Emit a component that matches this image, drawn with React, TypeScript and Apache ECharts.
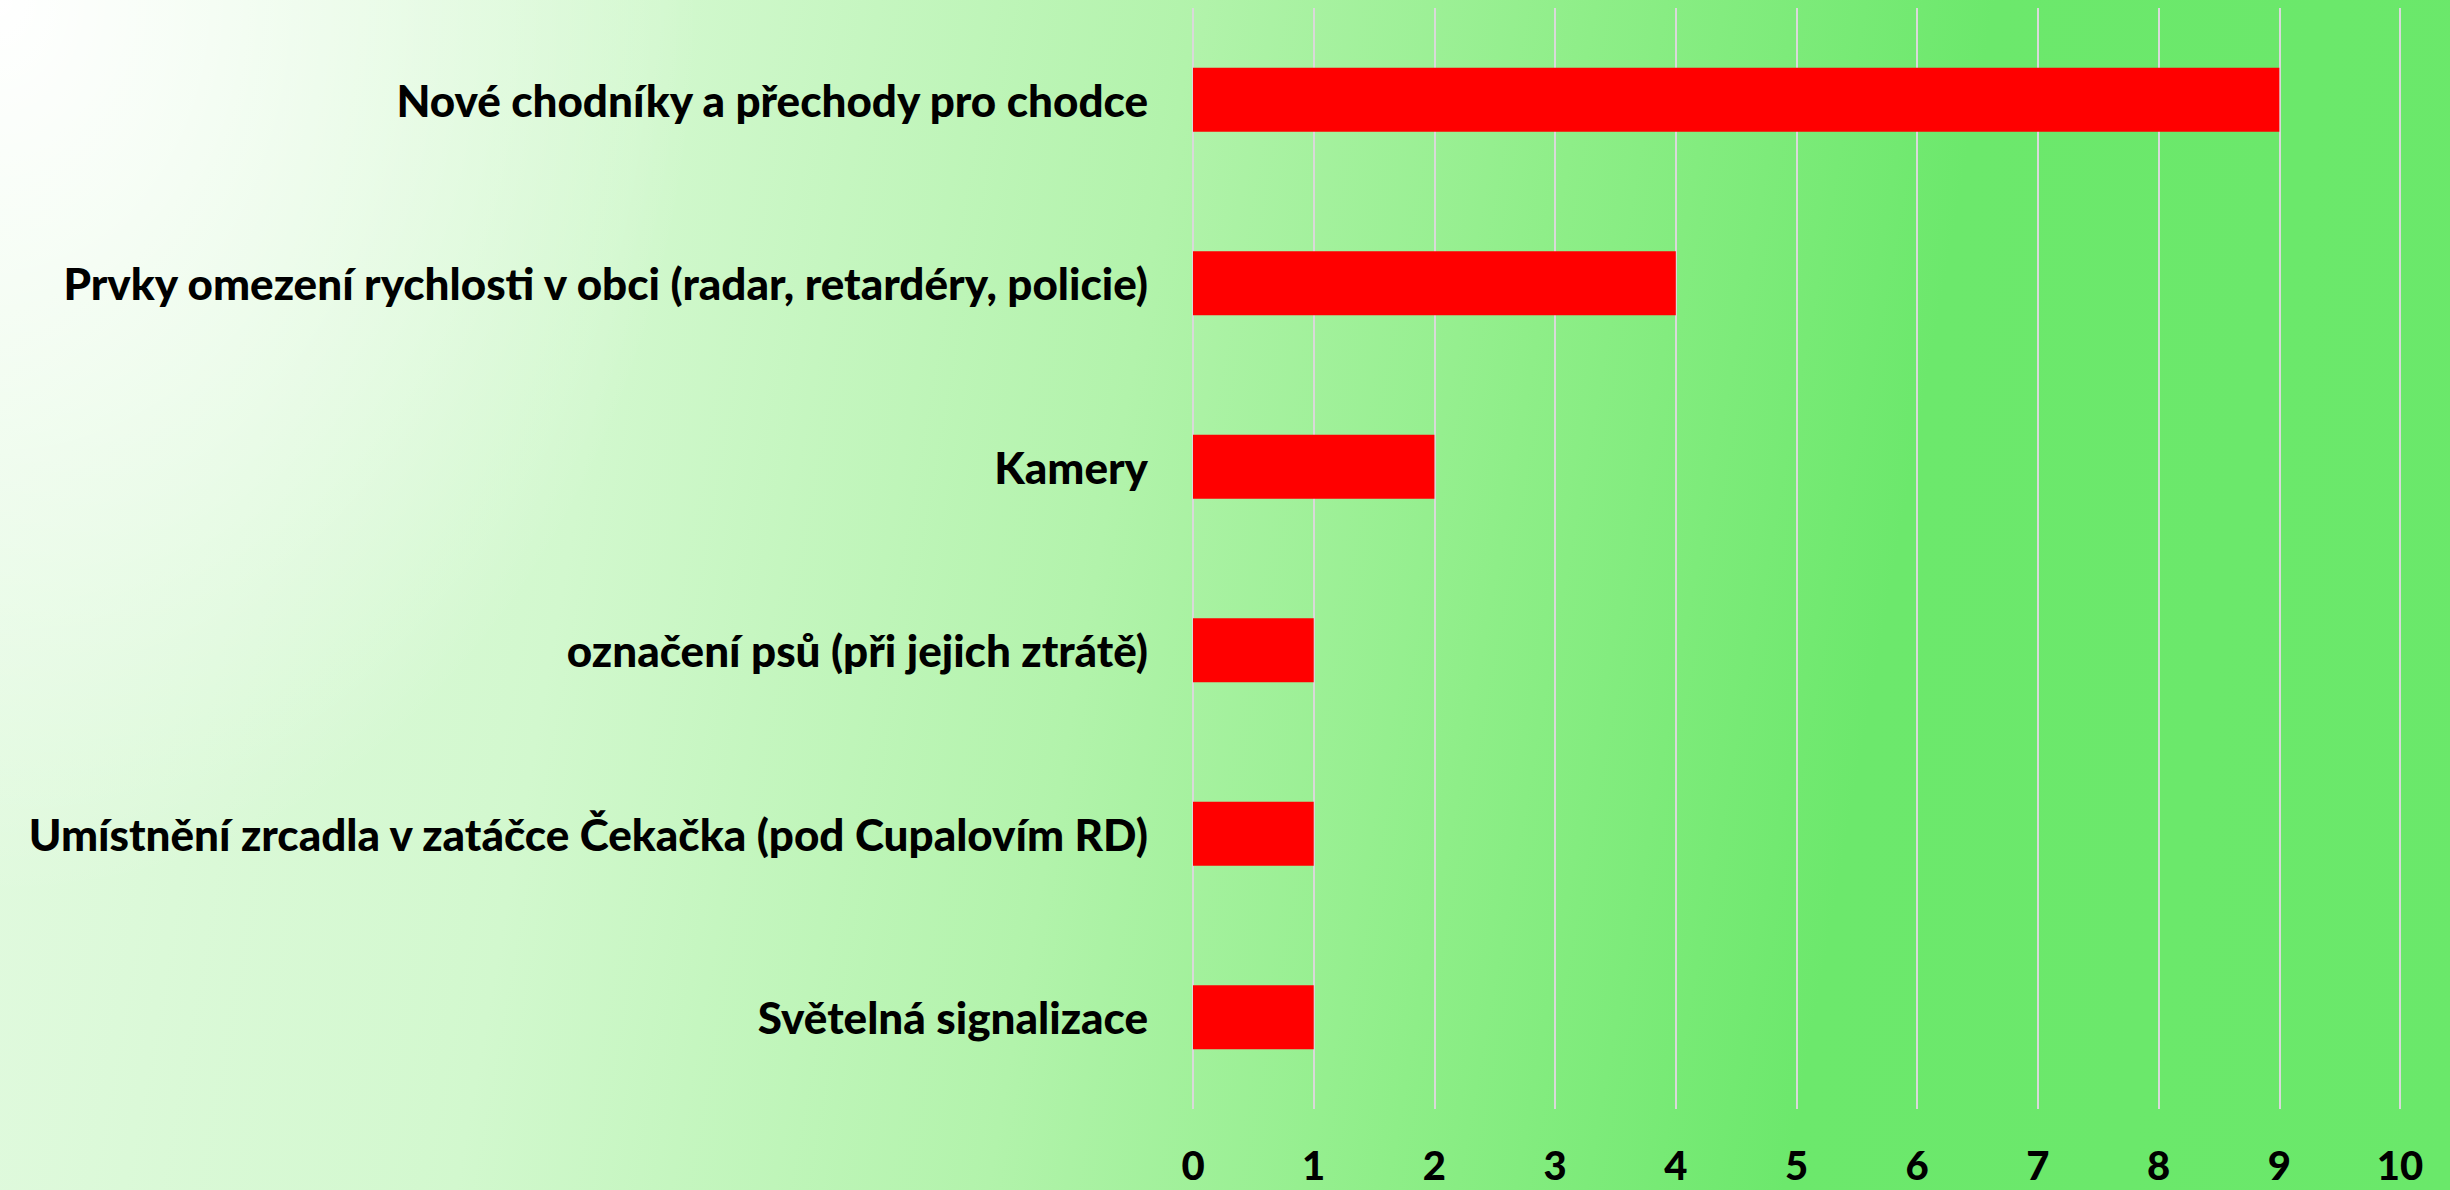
import React, { useEffect, useRef } from "react";
import * as echarts from "echarts";

const categories = [
  "Nové chodníky a přechody pro chodce",
  "Prvky omezení rychlosti v obci (radar, retardéry, policie)",
  "Kamery",
  "označení psů (při jejich ztrátě)",
  "Umístnění zrcadla v zatáčce Čekačka (pod Cupalovím RD)",
  "Světelná signalizace",
];
const values = [9, 4, 2, 1, 1, 1];
const xMin = 0;
const xMax = 10;
const xInterval = 1;

export default function App() {
  const ref = useRef<HTMLDivElement>(null);
  useEffect(() => {
    document.body.style.margin = "0";
    if (!ref.current) return;
    const chart = echarts.init(ref.current, null, { renderer: "svg" });
    chart.setOption({
      animation: false,
      backgroundColor: "transparent",
      grid: { left: 1193, right: 50, top: 8, bottom: 81, containLabel: false },
      xAxis: {
        type: "value",
        min: xMin,
        max: xMax,
        interval: xInterval,
        axisLine: { show: false },
        axisTick: { show: false },
        splitLine: { show: true, lineStyle: { color: "#d9d9d9", width: 2 } },
        axisLabel: {
          margin: 36,
          color: "#000",
          fontFamily: "Lato",
          fontWeight: 900,
          fontSize: 40,
          lineHeight: 40,
        },
      },
      yAxis: {
        type: "category",
        data: categories,
        inverse: true,
        axisLine: { show: false },
        axisTick: { show: false },
        splitLine: { show: false },
        axisLabel: {
          margin: 45,
          color: "#000",
          fontFamily: "Lato",
          fontWeight: 900,
          fontSize: 44,
        },
      },
      series: [
        {
          type: "bar",
          data: values,
          barWidth: 64,
          itemStyle: { color: "#ff0000" },
        },
      ],
    });
    return () => chart.dispose();
  }, []);
  return (
    <div
      ref={ref}
      style={{
        width: 2450,
        height: 1190,
        background:
          "radial-gradient(ellipse 700px 900px at 0% 0%, rgba(255,255,255,1) 0%, rgba(255,255,255,0.6) 40%, rgba(255,255,255,0) 100%), linear-gradient(100deg, #e4fae2 0%, #d2f8ce 25%, #b2f3ab 45%, #8eee88 60%, #6ce86c 75%, #6ae86a 100%)",
      }}
    />
  );
}
